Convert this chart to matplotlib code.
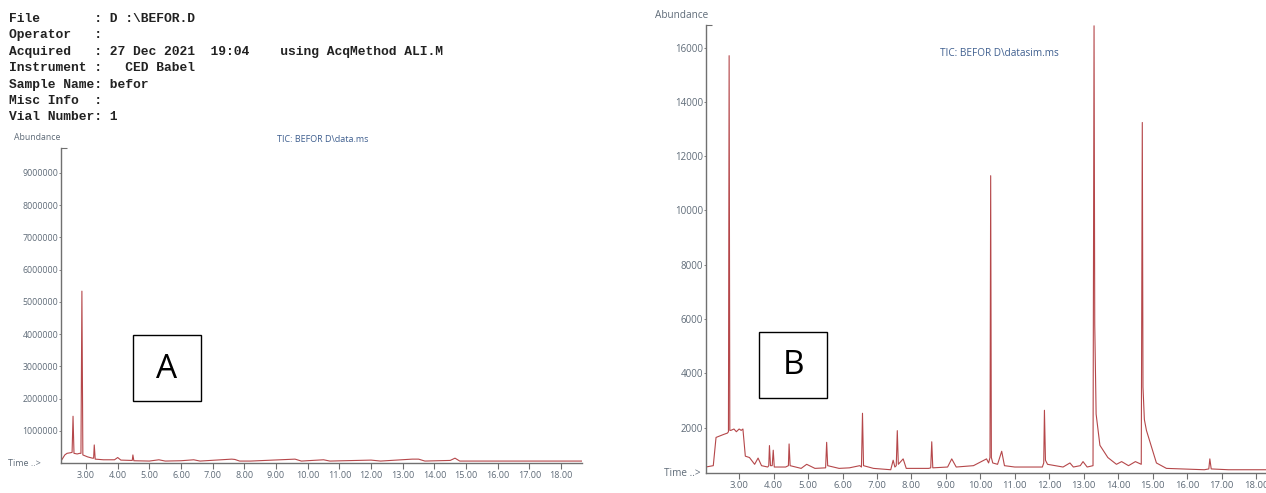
import matplotlib
matplotlib.use('Agg')
import matplotlib.pyplot as plt
from matplotlib.patches import Rectangle

# header text of the printout
header_lines = [
    'File       : D :\\BEFOR.D',
    'Operator   :',
    'Acquired   : 27 Dec 2021  19:04    using AcqMethod ALI.M',
    'Instrument :   CED Babel',
    'Sample Name: befor',
    'Misc Info  :',
    'Vial Number: 1',
]

# chromatogram A (TIC, data.ms)
time_a = [2.21, 2.33, 2.40, 2.52, 2.56, 2.59, 2.62, 2.72, 2.80, 2.84,
          2.87, 2.90, 3.05, 3.20, 3.24, 3.26, 3.29, 3.55, 3.90, 4.00,
          4.10, 4.42, 4.46, 4.48, 4.51, 5.00, 5.30, 5.50, 6.00, 6.40,
          6.60, 7.60, 7.70, 7.85, 8.20, 9.60, 9.80, 10.50, 10.70, 12.00,
          12.30, 13.30, 13.50, 13.70, 14.50, 14.65, 14.80, 16.00, 18.66]
abund_a = [60000, 250000, 300000, 320000, 330000, 1450000, 300000, 280000, 300000, 300000,
           5330000, 250000, 190000, 150000, 150000, 560000, 120000, 100000, 100000, 170000,
           90000, 80000, 80000, 250000, 70000, 60000, 100000, 60000, 70000, 100000,
           60000, 120000, 110000, 60000, 60000, 120000, 60000, 100000, 60000, 90000,
           60000, 120000, 120000, 60000, 80000, 150000, 60000, 60000, 60000]
ticks_a = [1000000, 2000000, 3000000, 4000000, 5000000, 6000000, 7000000,
           8000000, 9000000]

# chromatogram B (TIC, datasim.ms)
time_b = [2.03, 2.25, 2.33, 2.45, 2.55, 2.66, 2.69, 2.71, 2.73, 2.76,
          2.85, 2.92, 3.00, 3.06, 3.11, 3.18, 3.30, 3.45, 3.55, 3.65,
          3.83, 3.86, 3.88, 3.91, 3.96, 3.99, 4.02, 4.35, 4.43, 4.45,
          4.48, 4.80, 4.96, 5.20, 5.51, 5.54, 5.57, 5.90, 6.20, 6.50,
          6.55, 6.58, 6.61, 6.90, 7.40, 7.47, 7.52, 7.56, 7.59, 7.62,
          7.76, 7.85, 8.50, 8.56, 8.59, 8.62, 9.05, 9.17, 9.30, 9.80,
          10.18, 10.24, 10.28, 10.30, 10.32, 10.36, 10.50, 10.62, 10.70, 11.00,
          11.80, 11.84, 11.86, 11.89, 11.95, 12.40, 12.60, 12.70, 12.90, 12.98,
          13.10, 13.27, 13.30, 13.32, 13.36, 13.47, 13.70, 13.95, 14.10, 14.30,
          14.50, 14.67, 14.70, 14.72, 14.76, 14.82, 15.11, 15.40, 16.50, 16.63,
          16.66, 16.70, 17.20, 18.30]
abund_b = [550, 600, 1640, 1700, 1750, 1800, 1850, 15700, 1900, 1900,
           1950, 1850, 1950, 1900, 1950, 950, 900, 650, 880, 600,
           550, 600, 1340, 600, 600, 1170, 550, 550, 600, 1400,
           600, 500, 650, 500, 520, 1460, 600, 500, 520, 600,
           550, 2530, 600, 500, 450, 800, 550, 600, 1890, 650,
           850, 500, 500, 520, 1480, 520, 550, 850, 550, 600,
           850, 700, 900, 11280, 900, 700, 650, 1130, 600, 550,
           550, 700, 2640, 800, 650, 550, 700, 550, 600, 750,
           550, 600, 16800, 5800, 2500, 1350, 900, 650, 750, 600,
           750, 650, 13240, 3500, 2300, 1900, 700, 500, 450, 480,
           850, 480, 450, 450]
ticks_b = [2000, 4000, 6000, 8000, 10000, 12000, 14000, 16000]

minutes = [3, 4, 5, 6, 7, 8, 9, 10, 11, 12, 13, 14, 15, 16, 17, 18]

W, H = 1266, 493
trace = '#b5474a'
axcol = '#707070'
lblcol = '#5f6b78'
ticcol = '#3f5f8f'

fig = plt.figure(figsize=(W / 100, H / 100), dpi=100)


def px(x, y):
    return x / W, 1 - y / H


def setup(ax, xlim, ylim, yticks, ysize, xsize):
    ax.set_xlim(*xlim)
    ax.set_ylim(*ylim)
    for s in ['top', 'right']:
        ax.spines[s].set_visible(False)
    for s in ['left', 'bottom']:
        ax.spines[s].set_color(axcol)
        ax.spines[s].set_linewidth(1.0)
    ax.set_xticks(minutes)
    ax.set_xticklabels(['%.2f' % m for m in minutes])
    ax.set_yticks(yticks)
    ax.set_yticklabels([str(v) for v in yticks])
    ax.set_yticks([ylim[1]], minor=True)
    ax.tick_params(axis='x', length=4, width=0.8, color=axcol, pad=2,
                   labelsize=xsize, labelcolor=lblcol)
    ax.tick_params(axis='y', which='major', length=1.5, width=0.6,
                   color=axcol, pad=0.5, labelsize=ysize, labelcolor=lblcol)
    ax.tick_params(axis='y', which='minor', direction='in', length=4,
                   width=0.8, color=axcol)
    for lab in ax.get_xticklabels() + ax.get_yticklabels():
        lab.set_fontfamily('Open Sans')


# panel A
axA = fig.add_axes([61 / W, 1 - 463 / H, 521 / W, 315 / H])
axA.plot(time_a, abund_a, color=trace, lw=0.8)
setup(axA, (2.21, 18.66), (0, 9.77e6), ticks_a, 6.3, 6.5)

# panel B
axB = fig.add_axes([705.7 / W, 1 - 473 / H, (W - 705.7) / W, 448 / H])
axB.plot(time_b, abund_b, color=trace, lw=0.8)
setup(axB, (2.03, 18.29), (330, 16830), ticks_b, 7.0, 6.8)

# header block
for i, line in enumerate(header_lines):
    x, y = px(9, 19 + i * 16.4)
    fig.text(x, y, line, family='Liberation Mono', weight='bold',
             fontsize=9.4, color='#222222', va='center', ha='left')

# panel labels
kw = dict(family='Open Sans', va='center')
fig.text(*px(14, 138), 'Abundance', fontsize=6.3, color=lblcol, ha='left', **kw)
fig.text(*px(323, 140), 'TIC: BEFOR D\\data.ms', fontsize=6.5, color=ticcol,
         ha='center', **kw)
fig.text(*px(8, 463), 'Time ..>', fontsize=6.5, color=lblcol, ha='left', **kw)

fig.text(*px(655, 15), 'Abundance', fontsize=7.2, color=lblcol, ha='left', **kw)
fig.text(*px(999, 53), 'TIC: BEFOR D\\datasim.ms', fontsize=7.2, color=ticcol,
         ha='center', **kw)
fig.text(*px(664, 473), 'Time ..>', fontsize=7.2, color=lblcol, ha='left', **kw)

# boxed letters
for (x0, y0, x1, y1, letter) in [(133, 335, 201, 401, 'A'),
                                 (759, 332, 827, 398, 'B')]:
    fig.patches.append(Rectangle(px(x0, y1), (x1 - x0) / W, (y1 - y0) / H,
                                 transform=fig.transFigure, fill=False,
                                 edgecolor='black', linewidth=1.0))
    fig.text(*px((x0 + x1) / 2, (y0 + y1) / 2 + 1), letter, family='Open Sans',
             fontsize=24, ha='center', va='center', color='black')

fig.savefig('out.png', dpi=100)
